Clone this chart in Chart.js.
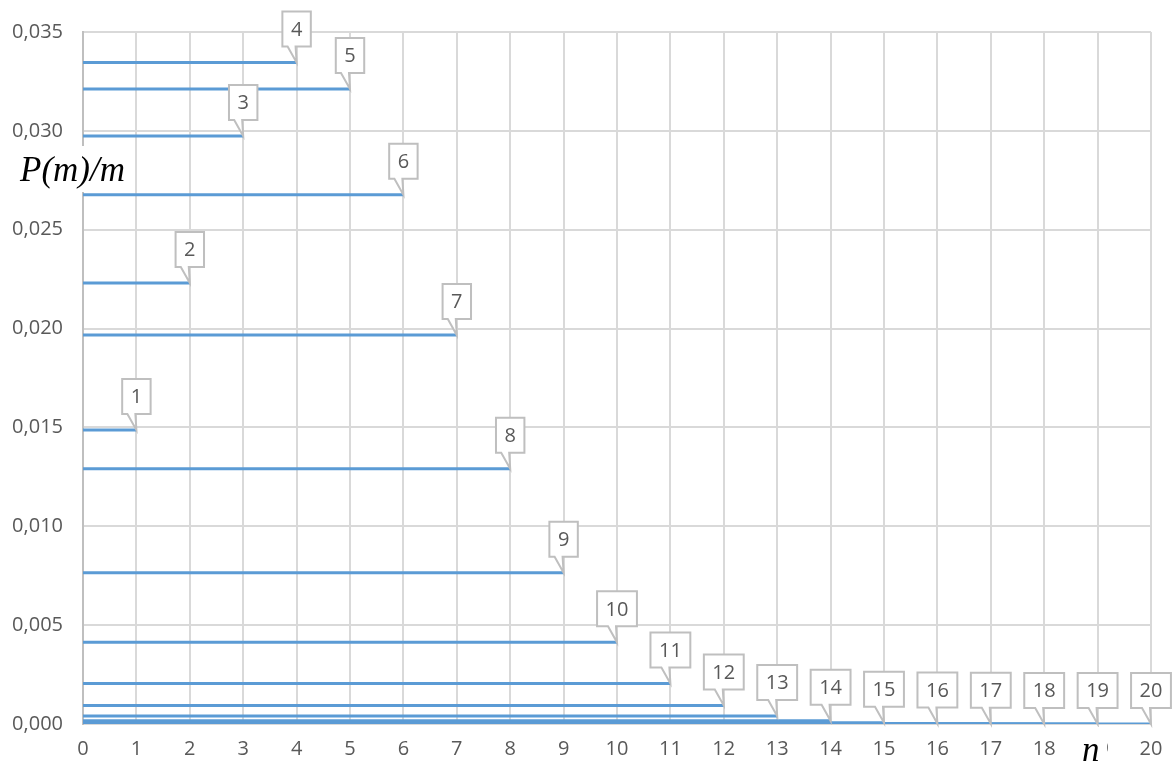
<!DOCTYPE html>
<html>
<head>
<meta charset="utf-8">
<script src="https://cdn.jsdelivr.net/npm/chart.js@4/dist/chart.umd.min.js"></script>
<style>
  html, body { margin: 0; padding: 0; background: #fff; }
  canvas { display: block; }
</style>
</head>
<body>
<canvas id="probChart" width="1176" height="765"></canvas>
<script>
// m and P(m)/m for each horizontal segment
const mValues = [1, 2, 3, 4, 5, 6, 7, 8, 9, 10, 11, 12, 13, 14, 15, 16, 17, 18, 19, 20];
const ratioValues = [
  0.01487, 0.02231, 0.02974, 0.03346, 0.03212, 0.02677, 0.01967, 0.01291, 0.00765, 0.00413,
  0.00205, 0.00094, 0.00040, 0.00016, 0.00006, 0.00002, 0.00001, 0.000002, 0.0000007, 0.0000002
];
const yTickValues = [0, 0.005, 0.010, 0.015, 0.020, 0.025, 0.030, 0.035];
const xTickValues = [0, 1, 2, 3, 4, 5, 6, 7, 8, 9, 10, 11, 12, 13, 14, 15, 16, 17, 18, 19, 20];

const LINE = '#5b9bd5';
const GRID = '#d9d9d9';
const TEXT = '#595959';
const FONT = "'Open Sans', sans-serif";

const datasets = mValues.map((m, i) => ({
  label: String(m),
  data: [{ x: 0, y: ratioValues[i] }, { x: m, y: ratioValues[i] }],
  showLine: true,
  borderColor: LINE,
  borderWidth: 3,
  borderCapStyle: 'butt',
  pointRadius: 0,
  fill: false
}));

// white callout boxes with a pointer at each segment's right end
const callouts = {
  id: 'callouts',
  afterDatasetsDraw(chart) {
    const { ctx, scales: { x, y } } = chart;
    ctx.save();
    ctx.font = '20px ' + FONT;
    ctx.textAlign = 'center';
    ctx.textBaseline = 'middle';
    mValues.forEach((m, i) => {
      const tx = x.getPixelForValue(m);
      const ty = y.getPixelForValue(ratioValues[i]);
      const text = String(m);
      const w = ctx.measureText(text).width + 17;
      const h = 35;
      const bottom = ty - 16;
      const top = bottom - h;
      const left = tx - w / 2;
      const right = tx + w / 2;
      ctx.beginPath();
      ctx.moveTo(left, top);
      ctx.lineTo(right, top);
      ctx.lineTo(right, bottom);
      ctx.lineTo(tx - 1, bottom);
      ctx.lineTo(tx, ty);
      ctx.lineTo(tx - 9, bottom);
      ctx.lineTo(left, bottom);
      ctx.closePath();
      ctx.fillStyle = '#fff';
      ctx.fill();
      ctx.strokeStyle = '#bfbfbf';
      ctx.lineWidth = 2;
      ctx.stroke();
      ctx.fillStyle = TEXT;
      ctx.fillText(text, tx, top + h / 2 + 1);
    });
    ctx.restore();
  }
};

// axis titles on white patches
const axisTitles = {
  id: 'axisTitles',
  afterDraw(chart) {
    const { ctx } = chart;
    ctx.save();
    ctx.fillStyle = '#fff';
    ctx.fillRect(14, 146, 118, 46);
    ctx.fillRect(1077, 727, 30, 38);
    ctx.fillStyle = '#000';
    ctx.textBaseline = 'alphabetic';
    ctx.textAlign = 'left';
    ctx.font = "italic 35px 'Liberation Serif', serif";
    ctx.fillText('P(m)/m', 20, 181);
    ctx.fillText('n', 1082, 761);
    ctx.restore();
  }
};

new Chart(document.getElementById('probChart'), {
  type: 'scatter',
  data: { datasets },
  plugins: [callouts, axisTitles],
  options: {
    responsive: false,
    animation: false,
    layout: { padding: { top: 29, right: 25, left: 0, bottom: 0 } },
    plugins: { legend: { display: false }, tooltip: { enabled: false } },
    scales: {
      x: {
        type: 'linear',
        min: 0,
        max: 20,
        afterBuildTicks: s => { s.ticks = xTickValues.map(v => ({ value: v })); },
        afterFit: s => { s.height = 41; },
        ticks: { color: TEXT, font: { family: FONT, size: 20 }, padding: 13, maxRotation: 0 },
        grid: { color: GRID, lineWidth: 2, drawTicks: false },
        border: { color: GRID, width: 2 }
      },
      y: {
        min: 0,
        max: 0.035,
        afterBuildTicks: s => { s.ticks = yTickValues.map(v => ({ value: v })); },
        afterFit: s => { s.width = 83; },
        ticks: {
          color: TEXT,
          font: { family: FONT, size: 20 },
          padding: 20,
          callback: v => v.toFixed(3).replace('.', ',')
        },
        grid: { color: GRID, lineWidth: 2, drawTicks: false },
        border: { color: '#bfbfbf', width: 2 }
      }
    }
  }
});
</script>
</body>
</html>
